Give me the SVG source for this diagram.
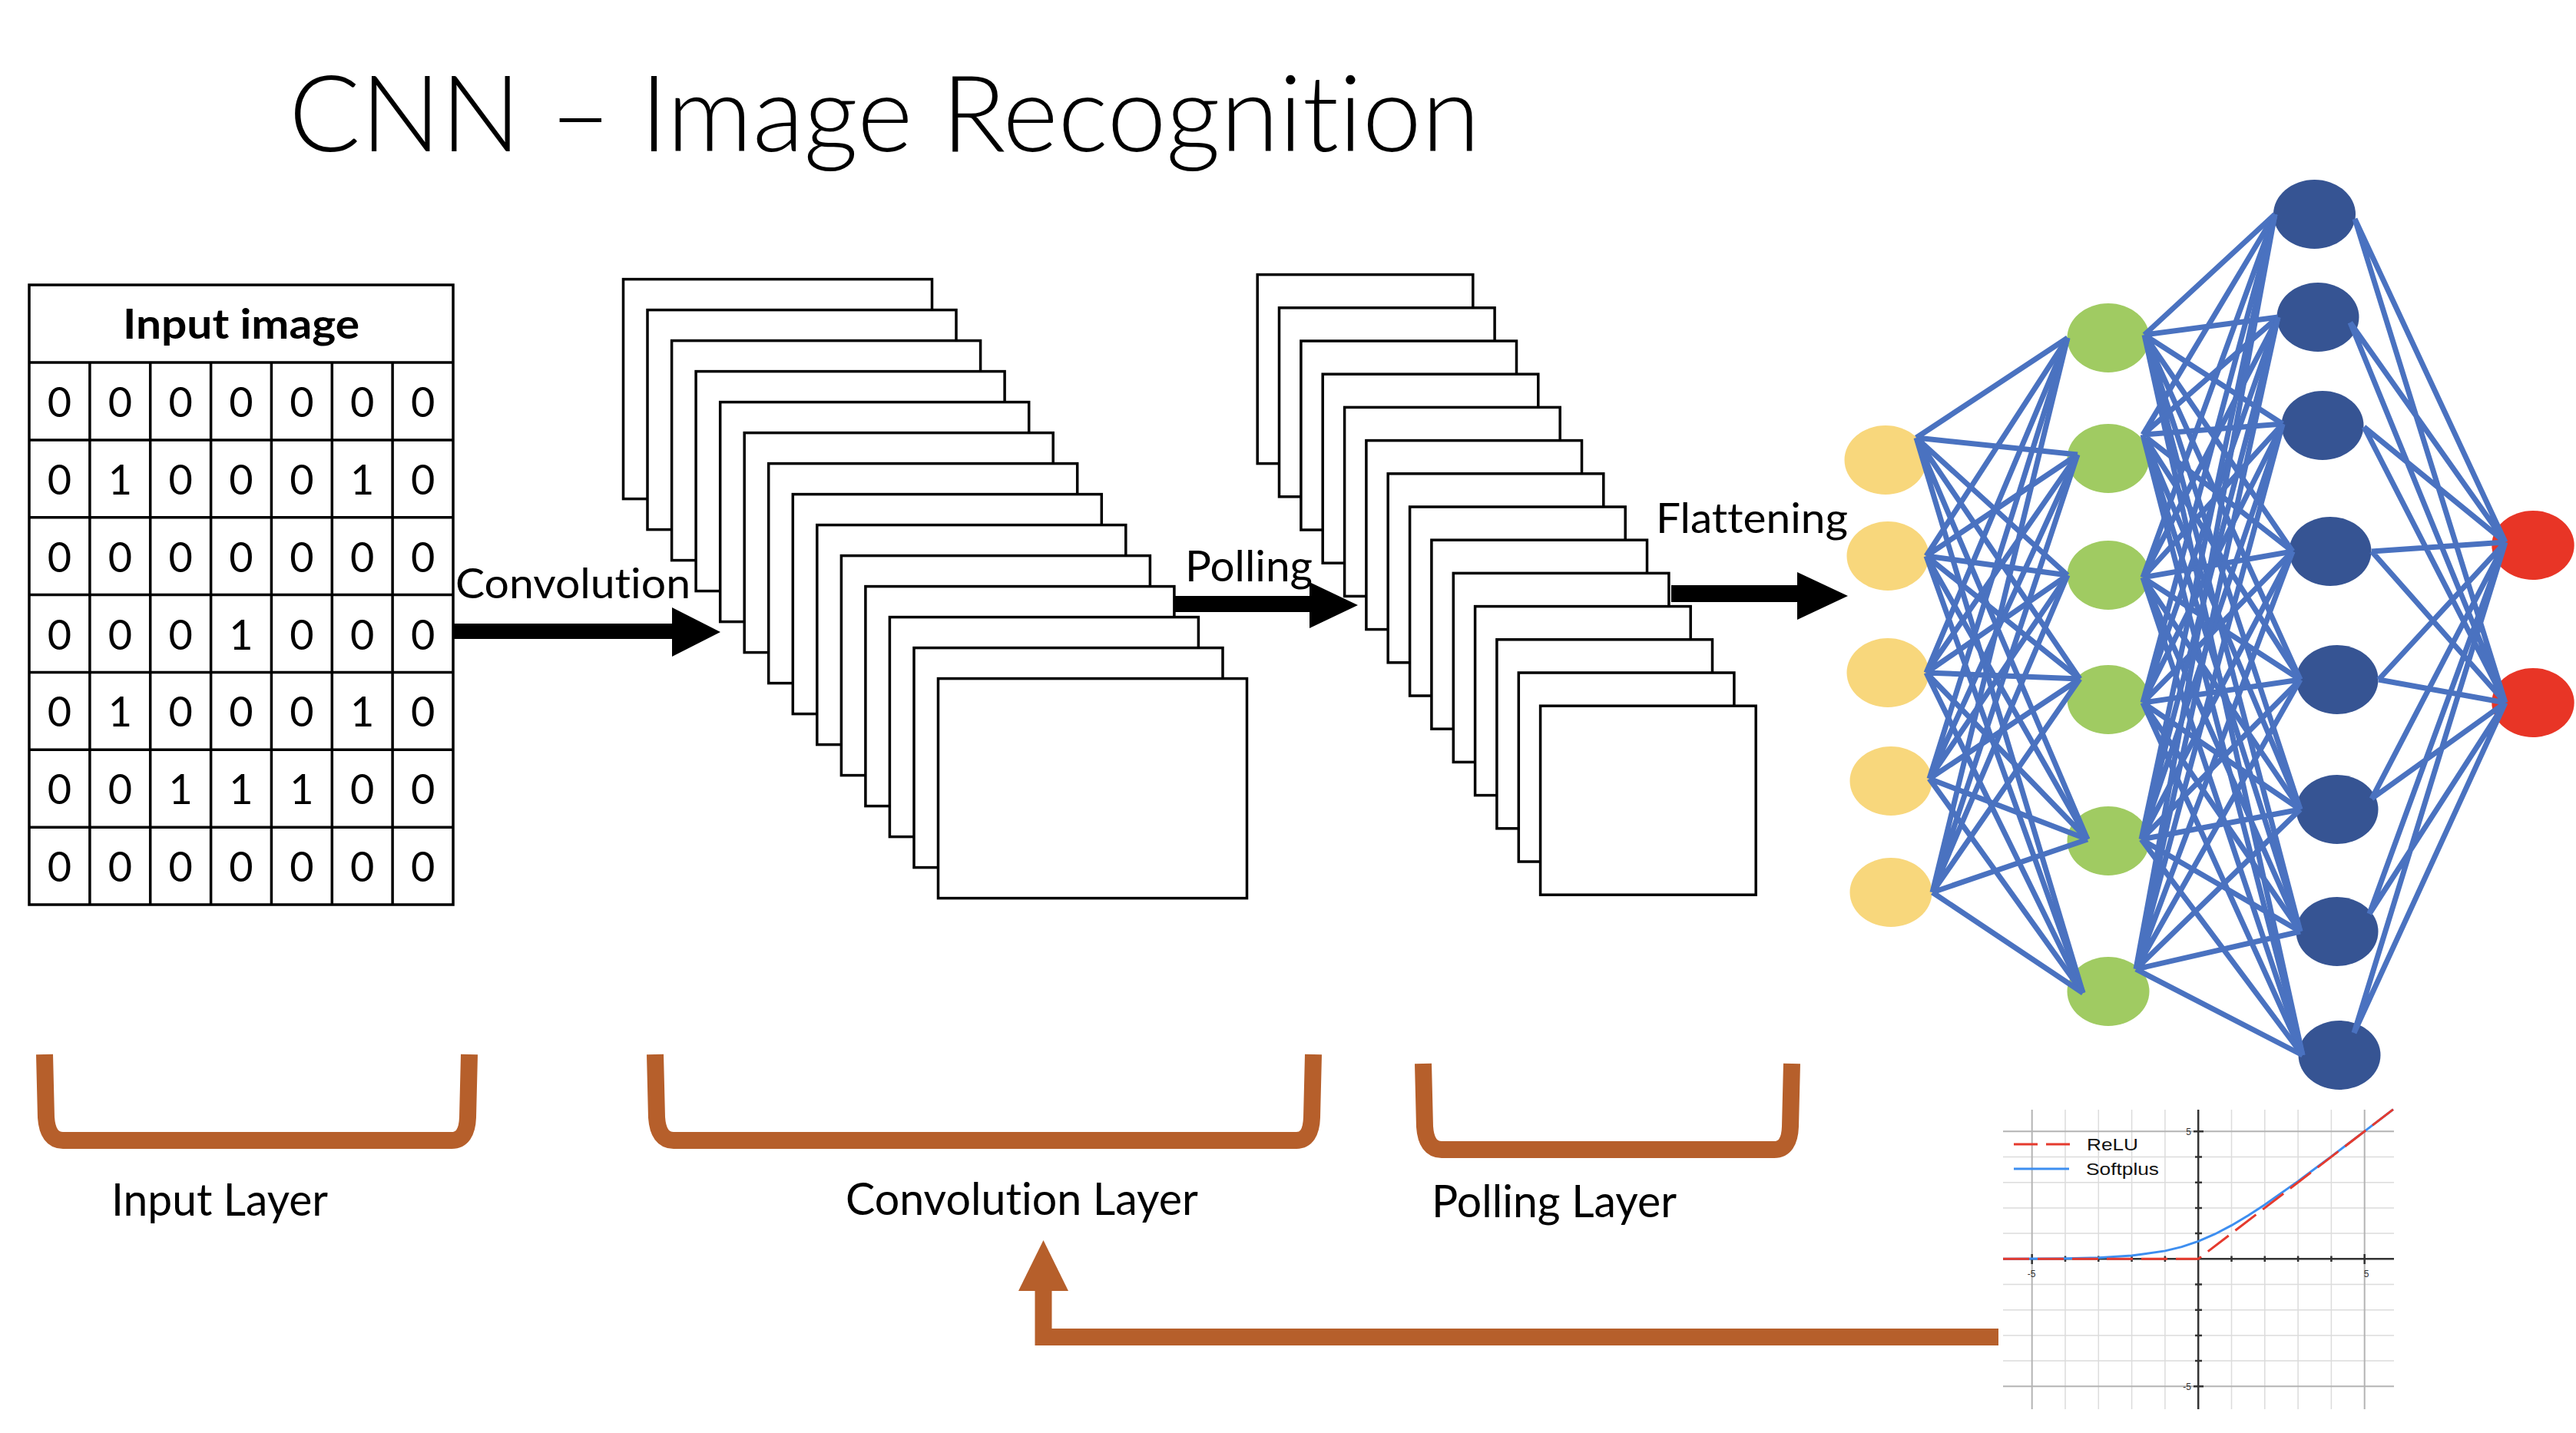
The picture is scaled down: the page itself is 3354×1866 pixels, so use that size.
<svg xmlns="http://www.w3.org/2000/svg" width="3354" height="1866" viewBox="0 0 3354 1866">
<style>
text{font-variant-ligatures:none}
.t{font-family:Lato,"Open Sans","Liberation Sans",sans-serif;fill:#000}
.d{font-family:Lato,"Open Sans","Liberation Sans",sans-serif;font-size:54px;text-anchor:middle;fill:#000}
.ln{fill:none;stroke:#000;stroke-width:3.5}
.fm{fill:#fff;stroke:#000;stroke-width:3.5}
.br{fill:none;stroke:#B65F2B;stroke-width:22}
.e{fill:none;stroke:#4A72C0;stroke-width:7}
.y{fill:#F8D77C}.g{fill:#A0CB62}.b{fill:#365493}.r{fill:#E83526}
.gr{stroke:#DCDCDC;stroke-width:1.5}
.gd{stroke:#B4B4B4;stroke-width:2}
.ax{stroke:#333;stroke-width:2.5}
.tk{stroke:#333;stroke-width:2.5}
.al{font-family:"Liberation Sans",Arial,sans-serif;font-size:12px;fill:#333}
.lg{font-family:"Liberation Sans",Arial,sans-serif;font-size:22px;fill:#111}
</style>
<rect width="3354" height="1866" fill="#fff"/>

<g id="title">
<text class="t" x="376" y="197" font-size="138" font-weight="300" textLength="1551" lengthAdjust="spacingAndGlyphs">CNN – Image Recognition</text>
</g>

<g id="input-image">
<rect class="ln" x="38" y="371" width="552" height="807" stroke-width="4"/>
<line class="ln" x1="38" y1="472" x2="590" y2="472" stroke-width="6"/>
<path class="ln" d="M38 572.9H590M38 673.7H590M38 774.6H590M38 875.4H590M38 976.3H590M38 1077.2H590M116.9 472V1178M195.7 472V1178M274.6 472V1178M353.4 472V1178M432.3 472V1178M511.1 472V1178"/>
<text class="t" x="160" y="441" font-size="53" font-weight="700" textLength="308" lengthAdjust="spacingAndGlyphs">Input image</text>
<text class="d" x="77.4 156.3 235.2 314 392.9 471.7 550.6" y="543">0000000</text>
<text class="d" x="77.4 156.3 235.2 314 392.9 471.7 550.6" y="644">0100010</text>
<text class="d" x="77.4 156.3 235.2 314 392.9 471.7 550.6" y="745">0000000</text>
<text class="d" x="77.4 156.3 235.2 314 392.9 471.7 550.6" y="846">0001000</text>
<text class="d" x="77.4 156.3 235.2 314 392.9 471.7 550.6" y="946">0100010</text>
<text class="d" x="77.4 156.3 235.2 314 392.9 471.7 550.6" y="1047">0011100</text>
<text class="d" x="77.4 156.3 235.2 314 392.9 471.7 550.6" y="1148">0000000</text>
</g>

<g id="conv-stack">
<rect class="fm" x="811.5" y="363.6" width="402" height="286"/>
<rect class="fm" x="843.0" y="403.6" width="402" height="286"/>
<rect class="fm" x="874.6" y="443.6" width="402" height="286"/>
<rect class="fm" x="906.1" y="483.6" width="402" height="286"/>
<rect class="fm" x="937.7" y="523.6" width="402" height="286"/>
<rect class="fm" x="969.2" y="563.6" width="402" height="286"/>
<rect class="fm" x="1000.7" y="603.6" width="402" height="286"/>
<rect class="fm" x="1032.3" y="643.6" width="402" height="286"/>
<rect class="fm" x="1063.8" y="683.6" width="402" height="286"/>
<rect class="fm" x="1095.4" y="723.6" width="402" height="286"/>
<rect class="fm" x="1126.9" y="763.6" width="402" height="286"/>
<rect class="fm" x="1158.4" y="803.6" width="402" height="286"/>
<rect class="fm" x="1190.0" y="843.6" width="402" height="286"/>
<rect class="fm" x="1221.5" y="883.6" width="402" height="286"/>
</g>

<g id="pool-stack">
<rect class="fm" x="1637.2" y="357.6" width="280.6" height="246"/>
<rect class="fm" x="1665.5" y="400.8" width="280.6" height="246"/>
<rect class="fm" x="1693.9" y="444.0" width="280.6" height="246"/>
<rect class="fm" x="1722.2" y="487.2" width="280.6" height="246"/>
<rect class="fm" x="1750.6" y="530.4" width="280.6" height="246"/>
<rect class="fm" x="1778.9" y="573.6" width="280.6" height="246"/>
<rect class="fm" x="1807.2" y="616.8" width="280.6" height="246"/>
<rect class="fm" x="1835.6" y="660.0" width="280.6" height="246"/>
<rect class="fm" x="1863.9" y="703.2" width="280.6" height="246"/>
<rect class="fm" x="1892.3" y="746.4" width="280.6" height="246"/>
<rect class="fm" x="1920.6" y="789.6" width="280.6" height="246"/>
<rect class="fm" x="1948.9" y="832.8" width="280.6" height="246"/>
<rect class="fm" x="1977.3" y="876.0" width="280.6" height="246"/>
<rect class="fm" x="2005.6" y="919.2" width="280.6" height="246"/>
</g>

<g id="flow-arrows">
<polygon points="590,812 875,812 875,791 938,823 875,855 875,832 590,832" fill="#000"/>
<polygon points="1529,776 1705,776 1705,758 1768,788 1705,818 1705,797 1529,797" fill="#000"/>
<polygon points="2176,762 2340,762 2340,745 2406,776 2340,807 2340,784 2176,784" fill="#000"/>
<text class="t" x="593" y="779" font-size="54" textLength="306" lengthAdjust="spacingAndGlyphs">Convolution</text>
<text class="t" x="1543" y="757" font-size="56" textLength="166" lengthAdjust="spacingAndGlyphs">Polling</text>
<text class="t" x="2156" y="694" font-size="54" textLength="250" lengthAdjust="spacingAndGlyphs">Flattening</text>
</g>

<g id="nn-nodes">
<ellipse class="y" cx="2455" cy="599" rx="53.5" ry="45"/>
<ellipse class="y" cx="2458" cy="724" rx="53.5" ry="45"/>
<ellipse class="y" cx="2458" cy="876" rx="53.5" ry="45"/>
<ellipse class="y" cx="2462" cy="1017" rx="53.5" ry="45"/>
<ellipse class="y" cx="2462" cy="1162" rx="53.5" ry="45"/>
<ellipse class="g" cx="2745" cy="440" rx="53.5" ry="45"/>
<ellipse class="g" cx="2745" cy="597" rx="53.5" ry="45"/>
<ellipse class="g" cx="2745" cy="749" rx="53.5" ry="45"/>
<ellipse class="g" cx="2745" cy="911" rx="53.5" ry="45"/>
<ellipse class="g" cx="2745" cy="1095" rx="53.5" ry="45"/>
<ellipse class="g" cx="2745" cy="1291" rx="53.5" ry="45"/>
<ellipse class="b" cx="3013.5" cy="279" rx="53.5" ry="45"/>
<ellipse class="b" cx="3018" cy="413" rx="53.5" ry="45"/>
<ellipse class="b" cx="3024" cy="554" rx="53.5" ry="45"/>
<ellipse class="b" cx="3034" cy="718" rx="53.5" ry="45"/>
<ellipse class="b" cx="3043" cy="885" rx="53.5" ry="45"/>
<ellipse class="b" cx="3043" cy="1054" rx="53.5" ry="45"/>
<ellipse class="b" cx="3043" cy="1213" rx="53.5" ry="45"/>
<ellipse class="b" cx="3046" cy="1374" rx="53.5" ry="45"/>
<ellipse class="r" cx="3298" cy="710" rx="53.7" ry="45"/>
<ellipse class="r" cx="3298" cy="915" rx="53.7" ry="45"/>
</g>

<g id="nn-connectors" class="e">
<path d="M2495 570L2692 440M2495 570L2705 592M2495 570L2692 749M2495 570L2708 884M2495 570L2718 1093M2495 570L2712 1293"/>
<path d="M2508 724L2692 440M2508 724L2705 592M2508 724L2692 749M2508 724L2708 884M2508 724L2718 1093M2508 724L2712 1293"/>
<path d="M2508 876L2692 440M2508 876L2705 592M2508 876L2692 749M2508 876L2708 884M2508 876L2718 1093M2508 876L2712 1293"/>
<path d="M2512 1014L2692 440M2512 1014L2705 592M2512 1014L2692 749M2512 1014L2708 884M2512 1014L2718 1093M2512 1014L2712 1293"/>
<path d="M2516 1162L2692 440M2516 1162L2705 592M2516 1162L2692 749M2516 1162L2708 884M2516 1162L2718 1093M2516 1162L2712 1293"/>
<path d="M2792 436L2962 279M2792 436L2966 413M2792 436L2972 552M2792 436L2985 718M2792 436L2995 885M2792 436L2995 1054M2792 436L2995 1213M2792 436L2998 1374"/>
<path d="M2790 566L2962 279M2790 566L2966 413M2790 566L2972 552M2790 566L2985 718M2790 566L2995 885M2790 566L2995 1054M2790 566L2995 1213M2790 566L2998 1374"/>
<path d="M2790 752L2962 279M2790 752L2966 413M2790 752L2972 552M2790 752L2985 718M2790 752L2995 885M2790 752L2995 1054M2790 752L2995 1213M2790 752L2998 1374"/>
<path d="M2790 915L2962 279M2790 915L2966 413M2790 915L2972 552M2790 915L2985 718M2790 915L2995 885M2790 915L2995 1054M2790 915L2995 1213M2790 915L2998 1374"/>
<path d="M2788 1093L2962 279M2788 1093L2966 413M2788 1093L2972 552M2788 1093L2985 718M2788 1093L2995 885M2788 1093L2995 1054M2788 1093L2995 1213M2788 1093L2998 1374"/>
<path d="M2781 1262L2962 279M2781 1262L2966 413M2781 1262L2972 552M2781 1262L2985 718M2781 1262L2995 885M2781 1262L2995 1054M2781 1262L2995 1213M2781 1262L2998 1374"/>
<path d="M3066 285L3262 706M3066 285L3262 915M3060 420L3262 706M3060 420L3262 915M3078 556L3262 706M3078 556L3262 915M3088 718L3262 706M3088 718L3262 915M3097 885L3262 706M3097 885L3262 915M3088 1040L3262 706M3088 1040L3262 915M3085 1190L3262 706M3085 1190L3262 915M3065 1345L3262 706M3065 1345L3262 915"/>
</g>

<g id="brackets">
<path class="br" d="M58 1373L60 1455Q62 1485 82 1485L588 1485Q608 1485 609 1455L611 1373"/>
<path class="br" d="M853 1373L855 1455Q857 1485 877 1485L1688 1485Q1707 1485 1708 1455L1710 1373"/>
<path class="br" d="M1853 1385L1855 1467Q1857 1497 1877 1497L2310 1497Q2330 1497 2331 1467L2333 1385"/>
<text class="t" x="145" y="1583" font-size="58" textLength="282" lengthAdjust="spacingAndGlyphs">Input Layer</text>
<text class="t" x="1101" y="1582" font-size="58" textLength="459" lengthAdjust="spacingAndGlyphs">Convolution Layer</text>
<text class="t" x="1864" y="1585" font-size="58" textLength="319" lengthAdjust="spacingAndGlyphs">Polling Layer</text>
</g>

<g id="feedback-arrow">
<polyline points="2602,1741 1358.5,1741 1358.5,1678" fill="none" stroke="#B65F2B" stroke-width="22" stroke-linejoin="miter"/>
<polygon points="1326,1681 1391,1681 1358.5,1615" fill="#B65F2B"/>
</g>

<g id="activation-chart">
<path class="gr" d="M2689 1445V1835M2732.3 1445V1835M2775.6 1445V1835M2818.9 1445V1835M2905.5 1445V1835M2948.8 1445V1835M2992.1 1445V1835M3035.4 1445V1835M2608 1506.5H3117M2608 1539.7H3117M2608 1572.9H3117M2608 1606.1H3117M2608 1672.5H3117M2608 1705.7H3117M2608 1738.9H3117M2608 1772.1H3117"/>
<path class="gd" d="M2645.7 1445V1835M3078.7 1445V1835M2608 1473.3H3117M2608 1805.3H3117"/>
<path class="ax" d="M2608 1639.3H3117M2862.2 1445V1835"/>
<path class="tk" d="M2645.7 1633V1646M2689 1635.5V1643M2732.3 1635.5V1643M2775.6 1635.5V1643M2818.9 1635.5V1643M2905.5 1635.5V1643M2948.8 1635.5V1643M2992.1 1635.5V1643M3035.4 1635.5V1643M3078.7 1633V1646M2856 1473.3H2869M2858 1506.5H2867M2858 1539.7H2867M2858 1572.9H2867M2858 1606.1H2867M2858 1672.5H2867M2858 1705.7H2867M2858 1738.9H2867M2858 1772.1H2867M2856 1805.3H2869"/>
<text class="al" x="2853" y="1478" text-anchor="end">5</text>
<text class="al" x="2853" y="1810" text-anchor="end">-5</text>
<text class="al" x="2645" y="1663" text-anchor="middle">-5</text>
<text class="al" x="3081" y="1663" text-anchor="middle">5</text>
<polyline points="2608,1639.2 2689,1638.7 2732.3,1637.7 2775.6,1635.1 2818.9,1628.9 2840.6,1623.6 2862.2,1616.3 2883.9,1607 2905.5,1595.7 2927.2,1582.8 2948.8,1568.7 2992.1,1538.1 3035.4,1505.9 3078.7,1473.1 3116,1444.6" fill="none" stroke="#3D8EF0" stroke-width="3"/>
<polyline points="2608,1639.3 2862.2,1639.3 3116,1444.6" fill="none" stroke="#E53A2E" stroke-width="3" stroke-dasharray="34 11"/>
<line x1="2622" y1="1490" x2="2695" y2="1490" stroke="#E53A2E" stroke-width="3" stroke-dasharray="31 11"/>
<line x1="2622" y1="1522" x2="2694" y2="1522" stroke="#3D8EF0" stroke-width="3"/>
<text class="lg" x="2717" y="1498" textLength="67" lengthAdjust="spacingAndGlyphs">ReLU</text>
<text class="lg" x="2716" y="1530" textLength="95" lengthAdjust="spacingAndGlyphs">Softplus</text>
</g>
</svg>
